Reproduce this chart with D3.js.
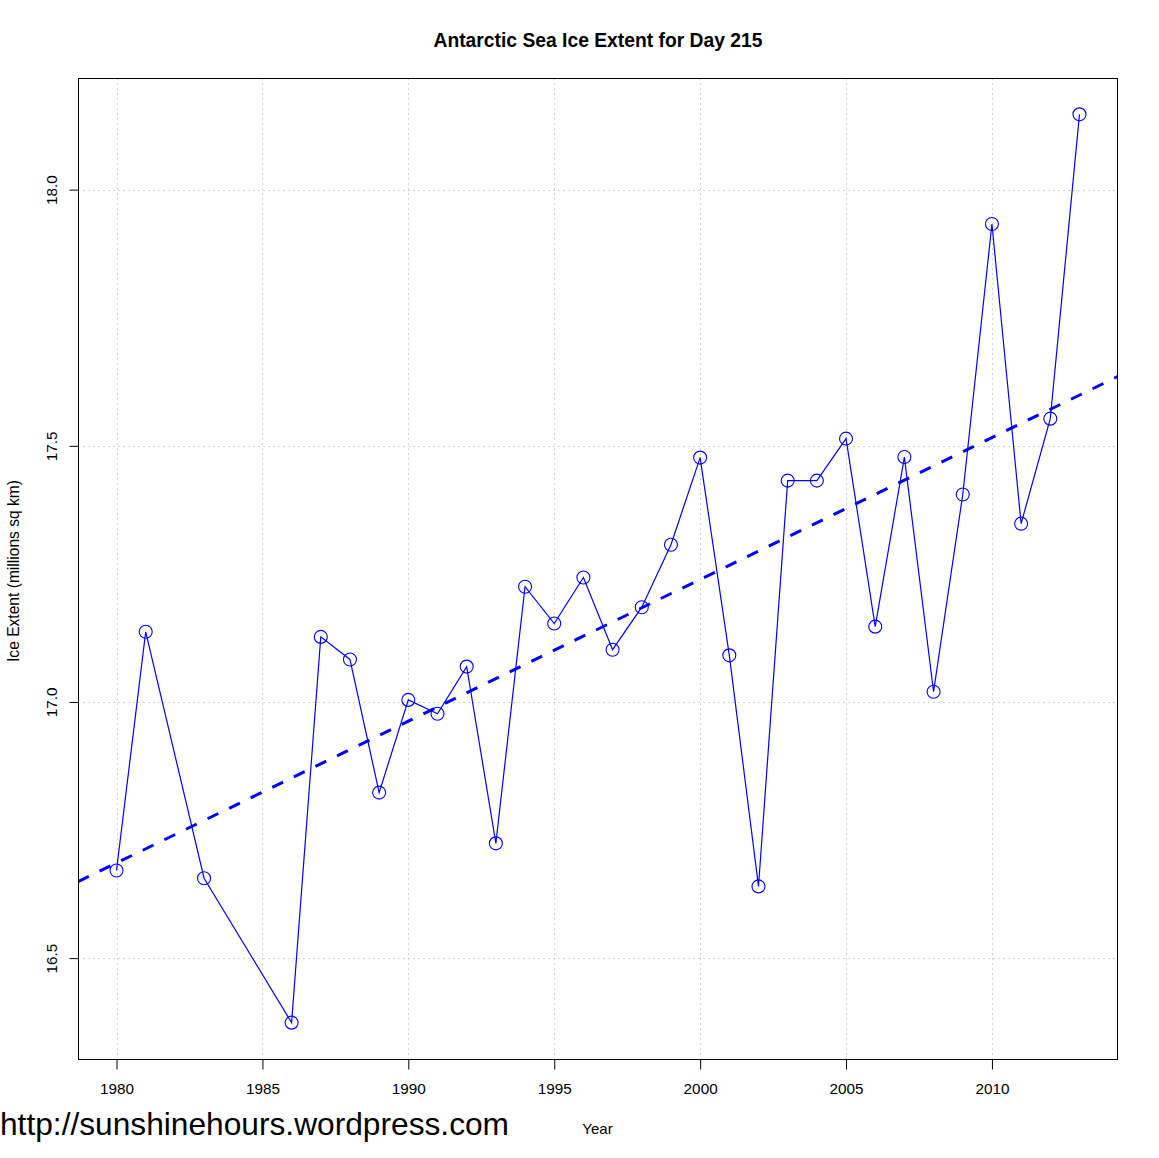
<!DOCTYPE html>
<html>
<head>
<meta charset="utf-8">
<script src="https://cdn.jsdelivr.net/npm/d3@7"></script>
<style>
  html, body { margin: 0; padding: 0; background: #fff; }
  svg { display: block; }
  text { font-family: "Liberation Sans", Arial, sans-serif; fill: #000; }
</style>
</head>
<body>
<svg id="chart" width="1159" height="1158"></svg>
<script>
const years = [1980, 1981, 1983, 1986, 1987, 1988, 1989, 1990, 1991, 1992, 1993, 1994, 1995, 1996, 1997, 1998, 1999, 2000, 2001, 2002, 2003, 2004, 2005, 2006, 2007, 2008, 2009, 2010, 2011, 2012, 2013];
const extent = [16.671, 17.137, 16.656, 16.374, 17.127, 17.083, 16.823, 17.004, 16.977, 17.069, 16.724, 17.225, 17.153, 17.243, 17.102, 17.185, 17.307, 17.477, 17.091, 16.640, 17.432, 17.432, 17.514, 17.147, 17.478, 17.020, 17.405, 17.933, 17.348, 17.553, 18.147];
const xTicks = [1980, 1985, 1990, 1995, 2000, 2005, 2010];
const yTicks = [16.5, 17.0, 17.5, 18.0];
const titleText = "Antarctic Sea Ice Extent for Day 215";
const xLabel = "Year";
const yLabel = "Ice Extent (millions sq km)";
const watermark = "http://sunshinehours.wordpress.com";

const svg = d3.select("#chart");
const L = 78, R = 1118, T = 78, B = 1059;

// R-style 4% axis extension
const xr = d3.extent(years), yr = d3.extent(extent);
const xpad = (xr[1] - xr[0]) * 0.04, ypad = (yr[1] - yr[0]) * 0.04;
const x = d3.scaleLinear().domain([xr[0] - xpad, xr[1] + xpad]).range([L, R]);
const y = d3.scaleLinear().domain([yr[0] - ypad, yr[1] + ypad]).range([B, T]);

// grid
const grid = svg.append("g").attr("stroke", "#d3d3d3").attr("stroke-width", 1).attr("stroke-dasharray", "2,3");
grid.selectAll("line.vx").data(xTicks).join("line")
  .attr("x1", d => Math.round(x(d)) + 0.5).attr("x2", d => Math.round(x(d)) + 0.5)
  .attr("y1", T).attr("y2", B);
grid.selectAll("line.hy").data(yTicks).join("line")
  .attr("y1", d => Math.round(y(d)) + 0.5).attr("y2", d => Math.round(y(d)) + 0.5)
  .attr("x1", L).attr("x2", R);

// clip
svg.append("clipPath").attr("id", "clip").append("rect")
  .attr("x", L).attr("y", T).attr("width", R - L).attr("height", B - T);

// data line + points
const line = d3.line().x((d, i) => x(years[i])).y(d => y(d));
svg.append("path").datum(extent).attr("d", line)
  .attr("fill", "none").attr("stroke", "#0000ff").attr("stroke-width", 1.2);
svg.append("g").selectAll("circle").data(extent).join("circle")
  .attr("cx", (d, i) => x(years[i])).attr("cy", d => y(d)).attr("r", 6.5)
  .attr("fill", "none").attr("stroke", "#0000ff").attr("stroke-width", 1.1);

// regression trend line (lm fit)
const mx = d3.mean(years), my = d3.mean(extent);
let sxy = 0, sxx = 0;
years.forEach((yv, i) => { sxy += (yv - mx) * (extent[i] - my); sxx += (yv - mx) * (yv - mx); });
const slope = sxy / sxx, icpt = my - slope * mx;
const xd = x.domain();
svg.append("line").attr("clip-path", "url(#clip)")
  .attr("x1", x(xd[0])).attr("y1", y(icpt + slope * xd[0]))
  .attr("x2", x(xd[1])).attr("y2", y(icpt + slope * xd[1]))
  .attr("stroke", "#0000ff").attr("stroke-width", 3).attr("stroke-dasharray", "12,12");

// box
svg.append("rect").attr("x", L + 0.5).attr("y", T + 0.5).attr("width", R - L - 1).attr("height", B - T)
  .attr("fill", "none").attr("stroke", "#000").attr("stroke-width", 1);

// x axis
const xAxis = d3.axisBottom(x).tickValues(xTicks).tickFormat(d3.format("d")).tickSize(10).tickPadding(14);
const gx = svg.append("g").attr("transform", `translate(0,${B + 0.5})`).call(xAxis);
gx.select(".domain").remove();
gx.selectAll("text").attr("font-size", 15.3).attr("font-family", "Liberation Sans, Arial, sans-serif");
gx.selectAll("line").attr("stroke", "#000");

// y axis
const yAxis = d3.axisLeft(y).tickValues(yTicks).tickFormat(d3.format(".1f")).tickSize(9);
const gy = svg.append("g").attr("transform", `translate(${L + 0.5},0)`).call(yAxis);
gy.select(".domain").remove();
gy.selectAll("line").attr("stroke", "#000");
gy.selectAll("text")
  .attr("font-size", 15.3).attr("font-family", "Liberation Sans, Arial, sans-serif")
  .attr("x", null).attr("dy", null)
  .attr("text-anchor", "middle")
  .attr("transform", "translate(-21.5,0) rotate(-90)");

// title and labels
svg.append("text").attr("x", (L + R) / 2).attr("y", 47).attr("text-anchor", "middle")
  .attr("font-size", 19.3).attr("font-weight", "bold").text(titleText);
svg.append("text").attr("x", 597.5).attr("y", 1134).attr("text-anchor", "middle")
  .attr("font-size", 15).text(xLabel);
svg.append("text").attr("transform", "translate(19,571) rotate(-90)").attr("text-anchor", "middle")
  .attr("font-size", 15.6).text(yLabel);
svg.append("text").attr("x", 0).attr("y", 1135).attr("font-size", 31.7).text(watermark);
</script>
</body>
</html>
